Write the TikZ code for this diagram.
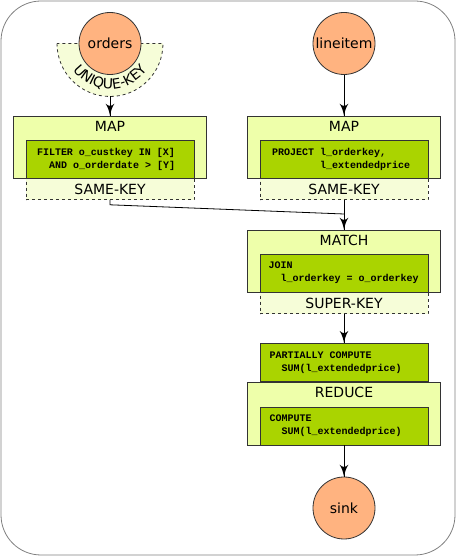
\documentclass[tikz,border=0pt]{standalone}
\usepackage{fontspec}
\setmainfont{DejaVu Sans}
\newfontfamily\codefont{Liberation Mono}
\usetikzlibrary{arrows}
\usetikzlibrary{decorations.markings}
\usetikzlibrary{decorations.text}
\usetikzlibrary{positioning}
\usetikzlibrary{backgrounds}
\definecolor{srcfill}{HTML}{FFB380}
\definecolor{opfill}{HTML}{EEFFAA}
\definecolor{udffill}{HTML}{AAD400}
\definecolor{keyfill}{HTML}{F6FDD8}
\newcommand{\codesize}{\codefont\bfseries\fontsize{10}{13}\selectfont}
\tikzset{flow/.style = {decoration={markings,
                                    mark=at position 1 with {\arrow[scale=2.3]{latex'}}},
                        postaction={decorate}}}
\tikzset{src/.style = {draw=black!80, fill=srcfill, circle, minimum size = 62, inner sep = 0,
                       font=\fontsize{14}{16}\selectfont}}
\tikzset{op/.style = {draw=black!80, fill=opfill, minimum width = 193, minimum height = 62, inner sep = 0}}
\tikzset{udf/.style = {draw=black!80, fill=udffill, minimum width = 168, minimum height = 38,
                       inner xsep = 11, inner ysep = 0, text width = 146, align = left,
                       font=\codesize,
                       execute at begin node={\spaceskip=6pt\xspaceskip=6pt\relax}}}
\tikzset{keybox/.style = {draw=black!80, dashed, fill=keyfill, minimum width = 168, minimum height = 21,
                          inner sep = 0, font=\fontsize{14}{16}\selectfont}}
\tikzset{oplabel/.style = {inner sep = 0, font=\fontsize{14}{16}\selectfont}}

\begin{document}
\begin{tikzpicture}[x=1pt, y=1pt, line width=0.8pt]
      \useasboundingbox (0, 0) rectangle (456, 557);
      \draw [gray, rounded corners=40] (1, 2) rectangle (455, 556);

      % sources
      \draw [keybox] (57, 513.5) arc [start angle=180, end angle=360, radius=53] -- cycle;
      \node [src] (orders) at (110, 513.5) {orders};
      \path [decorate, decoration={text along path, text align=center,
             text={|\fontsize{14}{16}\selectfont|UNIQUE-KEY}}]
            ([shift={(200:45.5)}]orders.center) arc [start angle=200, end angle=340, radius=45.5];
      \coordinate (ukey) at (110, 460.5);
      \node [src] (lineitem) at (344, 513.5) {lineitem};

      % map orders
      \node [op] (mapL) at (110, 410) {};
      \node [oplabel] (mapLtitle) at ([yshift=-11]mapL.north) {MAP};
      \node [udf, anchor = south] (mapLudf) at (mapL.south)
            {FILTER o\_custkey IN [X]\\\hphantom{FI}AND o\_orderdate > [Y]};

      % map lineitem
      \node [op] (mapR) at (344, 410) {};
      \node [oplabel] (mapRtitle) at ([yshift=-11]mapR.north) {MAP};
      \node [udf, anchor = south, inner xsep = 12, text width = 144] (mapRudf) at (mapR.south)
            {PROJECT l\_orderkey,\\\hphantom{PROJECT }l\_extendedprice};

      % match
      \node [op] (match) at (344, 296) {};
      \node [oplabel] (matchtitle) at ([yshift=-11]match.north) {MATCH};
      \node [udf, anchor = south, inner xsep = 8.5, text width = 151] (matchudf) at (match.south)
            {JOIN\\\hphantom{JO}l\_orderkey = o\_orderkey};

      % reduce
      \node [op, minimum height = 63] (reduce) at (344, 143.5) {};
      \node [oplabel] (reducetitle) at ([yshift=-11]reduce.north) {REDUCE};
      \node [udf, anchor = south, inner xsep = 9.5, text width = 149] (reduceudf) at (reduce.south)
            {COMPUTE\\\hphantom{CO}SUM(l\_extendedprice)};
      \node [udf, anchor = south, inner xsep = 9.5, text width = 149] (partial) at (reduce.north)
            {PARTIALLY COMPUTE\\\hphantom{PA}SUM(l\_extendedprice)};

      \begin{scope}[on background layer]
        \node [keybox, anchor = north] (mapLkey) at (mapL.south) {SAME-KEY};
        \node [keybox, anchor = north] (mapRkey) at (mapR.south) {SAME-KEY};
        \node [keybox, anchor = north] (matchkey) at (match.south) {SUPER-KEY};
      \end{scope}

      \node [src] (sink) at (344, 49) {sink};

      % connectors
      \coordinate (merge) at (344, 343);
      \draw [flow] (ukey) -- (mapL.north);
      \draw [flow] (lineitem) -- (mapR.north);
      \draw (mapLkey.south) -- ++(0, -5) -- (merge);
      \draw [flow] (mapRkey.south) -- (match.north);
      \draw [flow] (matchkey.south) -- (partial.north);
      \draw [flow] (reduce.south) -- (sink);
\end{tikzpicture}
\end{document}
